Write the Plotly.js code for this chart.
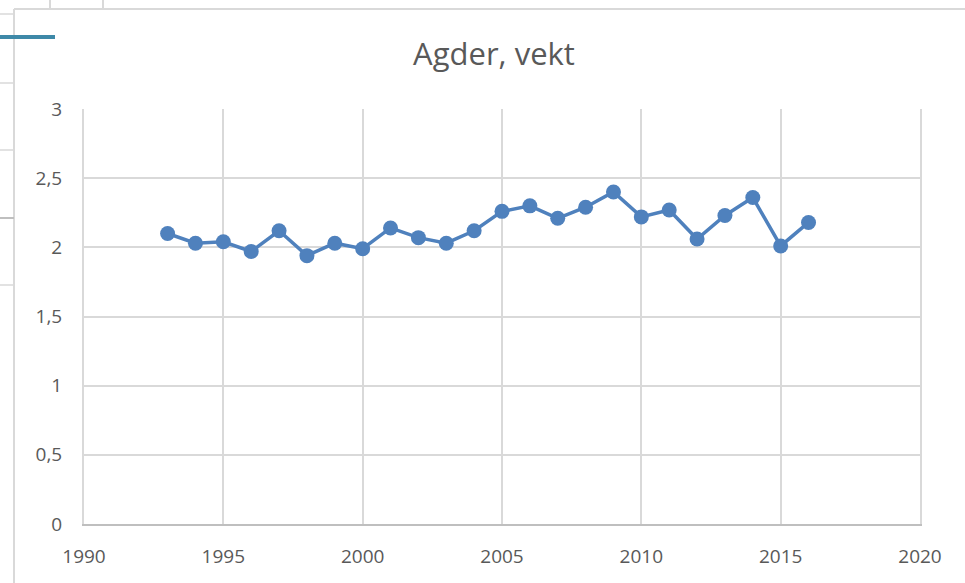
<!DOCTYPE html>
<html>
<head>
<meta charset="utf-8">
<script src="https://cdn.plot.ly/plotly-3.0.1.min.js"></script>
<style>html,body{margin:0;padding:0;background:#fff;}#chart{width:965px;height:583px;}</style>
</head>
<body>
<div id="chart"></div>
<script>
const years = [1993,1994,1995,1996,1997,1998,1999,2000,2001,2002,2003,2004,2005,2006,2007,2008,2009,2010,2011,2012,2013,2014,2015,2016];
const values = [2.10,2.03,2.04,1.97,2.12,1.94,2.03,1.99,2.14,2.07,2.03,2.12,2.26,2.30,2.21,2.29,2.40,2.22,2.27,2.06,2.23,2.36,2.01,2.18];
const xTicks = [1990,1995,2000,2005,2010,2015,2020];
const yTicks = [0,0.5,1,1.5,2,2.5,3];
const titleText = 'Agder, vekt';

// pixel -> paper helpers for decorative frame lines
const L = 84, R = 920, T = 109, B = 524;
const px = v => (v - L) / (R - L);
const py = v => (B - v) / (B - T);
function line(x0, y0, x1, y1, color, w) {
  return {type: 'line', xref: 'paper', yref: 'paper', x0: px(x0), y0: py(y0), x1: px(x1), y1: py(y1),
          line: {color: color, width: w}, layer: 'above'};
}
const shapes = [
  line(14, 9, 14, 583, '#d9d9d9', 2),
  line(14, 9, 965, 9, '#d9d9d9', 2),
  line(50, 0, 50, 9, '#d9d9d9', 2),
  line(103, 0, 103, 9, '#d9d9d9', 2),
  line(0, 14, 14, 14, '#d9d9d9', 1.5),
  line(0, 83, 14, 83, '#d9d9d9', 1.5),
  line(0, 150, 14, 150, '#d9d9d9', 1.5),
  line(0, 218, 14, 218, '#bfbfbf', 2),
  line(0, 285, 14, 285, '#d9d9d9', 1.5),
  line(0, 37, 55, 37, '#3e89a8', 4)
];

const trace = {
  x: years, y: values, type: 'scatter', mode: 'lines+markers',
  line: {color: '#4f81bd', width: 3.5},
  marker: {color: '#4f81bd', size: 15},
  hoverinfo: 'x+y'
};

const layout = {
  width: 965, height: 583,
  margin: {l: L, r: 965 - R, t: T, b: 583 - B, pad: 0},
  paper_bgcolor: '#ffffff', plot_bgcolor: '#ffffff',
  separators: ', ',
  showlegend: false,
  font: {family: 'Open Sans, sans-serif', color: '#595959', size: 19},
  title: {text: titleText, font: {family: 'Open Sans, sans-serif', size: 31, color: '#595959'},
          x: 494 / 965, xref: 'container', xanchor: 'center', y: 1 - 54 / 583, yref: 'container', yanchor: 'middle'},
  xaxis: {range: [1990, 2020], tickvals: xTicks, ticktext: xTicks.map(String), showgrid: true,
          gridcolor: '#d9d9d9', gridwidth: 2, zeroline: false, showline: true, linecolor: '#bfbfbf', linewidth: 2,
          mirror: false, ticks: '', ticklabelstandoff: 14, tickfont: {size: 19, color: '#595959'}},
  yaxis: {range: [0, 3], tickvals: yTicks, showgrid: true, gridcolor: '#d9d9d9', gridwidth: 2,
          zeroline: false, showline: true, linecolor: '#d9d9d9', linewidth: 2, mirror: true, ticks: '',
          ticklabelstandoff: 16, tickfont: {size: 19, color: '#595959'}},
  shapes: shapes
};

Plotly.newPlot('chart', [trace], layout, {displayModeBar: false, staticPlot: true});
</script>
</body>
</html>
